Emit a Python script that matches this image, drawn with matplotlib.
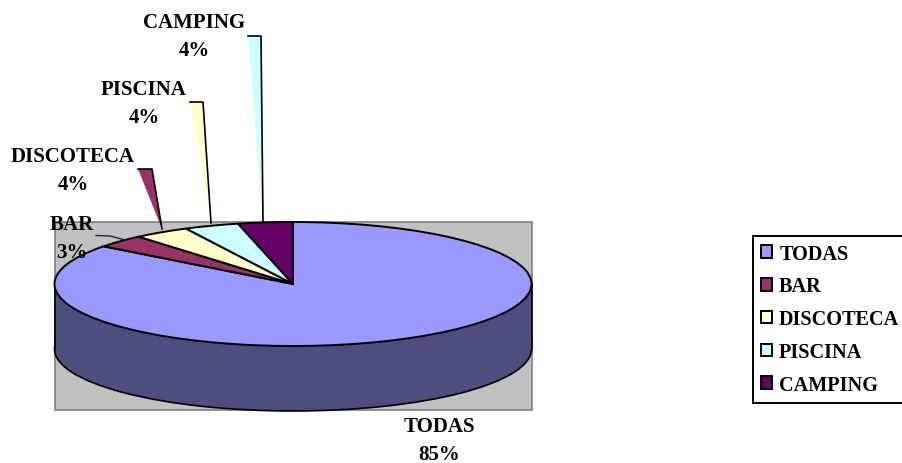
import matplotlib
matplotlib.use("Agg")
import matplotlib.pyplot as plt
from matplotlib.patches import Rectangle, Polygon

categories = ["TODAS", "BAR", "DISCOTECA", "PISCINA", "CAMPING"]
values = [85.4, 3.4, 3.8, 3.7, 3.7]
colors = ["#9999ff", "#993366", "#ffffcc", "#ccffff", "#660066"]

plt.rcParams["font.family"] = ["Liberation Serif", "DejaVu Serif"]
plt.rcParams["font.weight"] = "bold"

W, H = 902, 464
CX, CY, RX, RY, DEPTH = 293, 285, 238.5, 62, 65
k = RX / RY

fig = plt.figure(figsize=(W / 100, H / 100), dpi=100)
ax = fig.add_axes([0, 0, 1, 1])

def Y(py):
    return (H - py) * k

# plot-area backdrop
ax.add_patch(Rectangle((55, Y(411)), 477, Y(223) - Y(411), fc="#c0c0c0", ec="#808080", lw=1.2, zorder=0))

# side of the disc
ax.pie([1], colors=["#4d4d80"], center=(CX, Y(CY + DEPTH)), radius=RX,
       wedgeprops=dict(edgecolor="black", linewidth=1.2, zorder=1))
ax.add_patch(Rectangle((CX - RX, Y(CY + DEPTH)), 2 * RX, Y(CY) - Y(CY + DEPTH), fc="#4d4d80", ec="none", zorder=1.5))
for x in (CX - RX, CX + RX):
    ax.plot([x, x], [Y(CY), Y(CY + DEPTH)], color="black", lw=1.2, zorder=1.6)

# top of the disc
wedges, _ = ax.pie(values, colors=colors, startangle=90, counterclock=False,
                   center=(CX, Y(CY)), radius=RX,
                   wedgeprops=dict(edgecolor="black", linewidth=1.4, zorder=2))

ax.set_aspect("auto")
ax.set_xlim(0, W)
ax.set_ylim(0, H * k)
ax.axis("off")

# callout leaders, each filled with the colour of the previous category
leaders = {
    "DISCOTECA": [(138, 170), (152, 170), (162, 230)],
    "PISCINA": [(190, 103), (203, 103), (211, 224)],
    "CAMPING": [(248, 37), (261, 37), (263, 222)],
}
for i, name in enumerate(categories):
    pts = leaders.get(name)
    if pts:
        ax.add_patch(Polygon([(x, Y(y)) for x, y in pts], closed=True, fc=colors[i - 1], ec="none", zorder=2.5))
        ax.plot([pts[0][0], pts[1][0], pts[2][0]], [Y(pts[0][1]), Y(pts[1][1]), Y(pts[2][1])],
                color="black", lw=1.2, zorder=2.6)
ax.plot([96, 110, 125], [Y(236.5), Y(237), Y(241)], color="#222244", lw=1.0, zorder=2.6)

# data labels
label_pos = {"TODAS": (439, 427), "BAR": (72, 225), "DISCOTECA": (73, 157),
             "PISCINA": (144, 90), "CAMPING": (194, 23)}
for name, val in zip(categories, values):
    x, y = label_pos[name]
    ax.text(x, Y(y), name, ha="center", va="center", fontsize=15, zorder=5)
    ax.text(x, Y(y + 28), f"{round(val)}%", ha="center", va="center", fontsize=15, zorder=5)

leg = ax.legend(wedges, categories, loc="upper left",
                bbox_to_anchor=(753 / W, 1 - 237 / H), bbox_transform=fig.transFigure,
                prop=dict(family="Liberation Serif", weight="bold", size=14.6),
                fancybox=False, framealpha=1, edgecolor="black",
                handlelength=0.58, handleheight=0.58, handletextpad=0.33,
                labelspacing=0.63, borderpad=0.38, borderaxespad=0)
leg.get_frame().set_linewidth(1.4)

fig.savefig("out.png", dpi=100)
